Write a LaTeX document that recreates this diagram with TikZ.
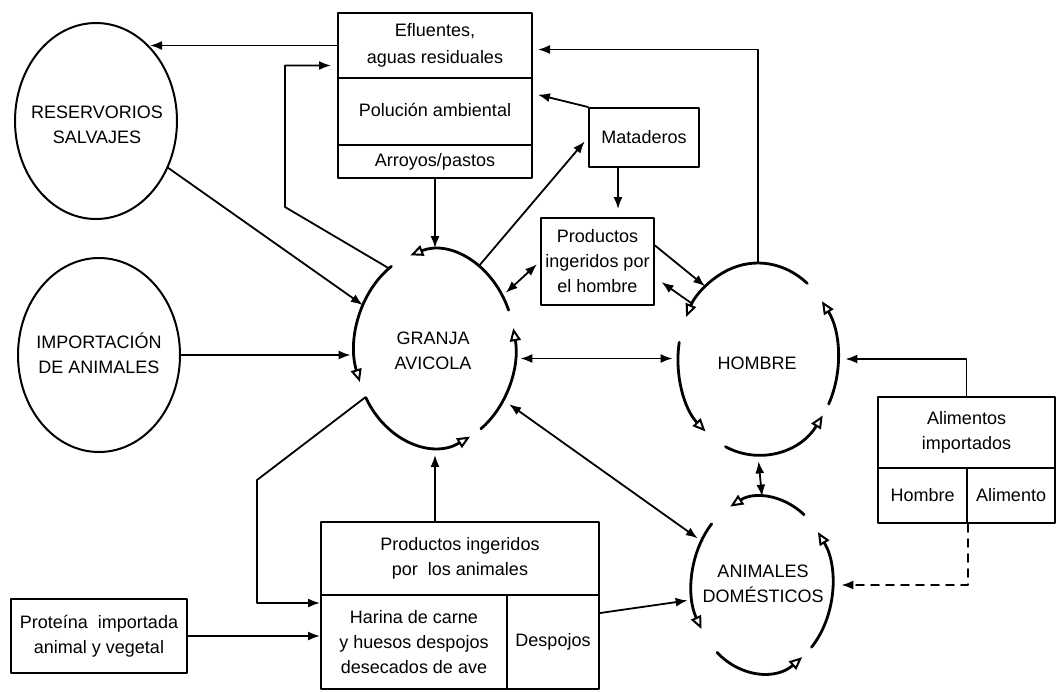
\documentclass[tikz,border=0pt]{standalone}
\usepackage{fontspec}
\setmainfont{Liberation Sans}
\usetikzlibrary{arrows.meta,shapes.geometric}

\begin{document}
\begin{tikzpicture}[x=0.5pt,y=0.5pt,font=\fontsize{9}{12.5}\selectfont,line cap=round,line join=round,
  cell/.style 2 args={draw,line width=1pt,inner sep=0pt,align=center,minimum width=#1,minimum height=#2},
  ring/.style 2 args={draw,line width=1pt,ellipse,inner sep=0pt,minimum width=#1,minimum height=#2},
  hole/.style 2 args={ellipse,inner sep=0pt,minimum width=#1,minimum height=#2},
  tag/.style={align=center,inner sep=0pt},
  flow/.style={line width=0.9pt,-{Latex[length=6pt,width=4.5pt]}},
  both/.style={line width=0.9pt,{Latex[length=6pt,width=4.5pt]}-{Latex[length=6pt,width=4.5pt]}},
  cyc/.style={line width=1.4pt,-{Triangle[open,length=6.5pt,width=5.5pt,line width=1pt]}}]
  \useasboundingbox (0,0) rectangle (1058,-692);

  % outer sources, drawn as plain ellipses
  \node[ring={81pt}{98pt}] (reservorios) at (96,-121) {};
  \node[tag] (reservoriosT) at (97,-125) {RESERVORIOS\\SALVAJES};
  \node[ring={81pt}{97pt}] (importacion) at (99,-355) {};
  \node[tag] (importacionT) at (99,-353) {IMPORTACIÓN\\DE ANIMALES};

  % the three populations, each a ring of four open-headed arcs
  \node[hole={80pt}{98pt}] (granja) at (435,-348.5) {};
  \node[tag] (granjaT) at (433,-350.5) {GRANJA\\AVICOLA};
  \foreach \a/\b in {23/108,123/200,210/296,305/372}
    \draw[cyc] ([shift={(\a:80 and 98)}]granja.center) arc[start angle=\a,end angle=\b,x radius=80,y radius=98];

  \node[hole={80pt}{96pt}] (hombre) at (758,-359) {};
  \node[tag] (hombreT) at (757,-363) {HOMBRE};
  \foreach \a/\b in {52/154,170/229,246/324,332/397}
    \draw[cyc] ([shift={(\a:80 and 96)}]hombre.center) arc[start angle=\a,end angle=\b,x radius=80,y radius=96];

  \node[hole={70pt}{88pt}] (animales) at (762,-585) {};
  \node[tag] (animalesT) at (763,-583.5) {ANIMALES\\DOMÉSTICOS};
  \foreach \a/\b in {53/117,136/210,230/305,315/397}
    \draw[cyc] ([shift={(\a:70 and 88)}]animales.center) arc[start angle=\a,end angle=\b,x radius=70,y radius=88];

  % boxes
  \node[cell={97pt}{32.5pt}] (efl) at (435,-45.5) {Efluentes,\\[1pt]aguas residuales};
  \node[cell={97pt}{33.5pt}] (pol) at (435,-111.5) {\raisebox{2pt}{Polución ambiental}};
  \node[cell={97pt}{16.5pt}] (arr) at (435,-161.5) {Arroyos/pastos};
  \node[cell={55pt}{29.5pt}] (mataderos) at (644,-137.5) {Mataderos};
  \node[cell={56.5pt}{43.5pt}] (prodh) at (597.5,-261.5) {Productos\\ingeridos por\\el hombre};
  \node[cell={88.5pt}{35.5pt}] (alim) at (966.5,-432.5) {Alimentos\\importados};
  \node[cell={44.5pt}{27.5pt}] (hom) at (922.5,-495.5) {Hombre};
  \node[cell={44pt}{27.5pt}] (alm) at (1011,-495.5) {Alimento};
  \node[cell={139pt}{36.5pt}] (pia) at (460,-558.5) {Productos ingeridos\\por~ los animales};
  \node[cell={93pt}{47pt}] (harina) at (414,-642) {Harina de carne\\y huesos despojos\\desecados de ave};
  \node[cell={46pt}{47pt}] (desp) at (553,-642) {Despojos};
  \node[cell={88pt}{37pt}] (prot) at (99,-636) {Proteína~ importada\\animal y vegetal};

  \coordinate (bendA) at (285,-207);
  \coordinate (bendB) at (257,-480);

  % connectors
  \draw[flow] (reservorios.-33) -- (granja.149);
  \draw[flow,shorten >=2pt] (importacion.east) -- (importacion.east -| granja.west);
  \draw[flow] (efl.west) -- (efl.west -| reservorios.54);
  \draw[flow,shorten >=3pt] (granja.120) -- (bendA) |- ([yshift=-10pt]efl.west);
  \draw[flow,shorten >=1pt] (arr.south) -- (granja.north);
  \draw[flow,shorten >=2.5pt] (granja.62) -- (mataderos.west);
  \draw[flow,shorten >=2.5pt] (mataderos.north west) -- ([yshift=9pt]pol.east);
  \draw[flow,shorten >=4pt] ([xshift=-13pt]mataderos.south) -- ([xshift=-13pt]mataderos.south |- prodh.north);
  \draw[both,shorten <=2pt,shorten >=2pt] (prodh.west) -- (granja.38);
  \draw[flow] ([yshift=8pt]prodh.east) -- (hombre.126);
  \draw[flow,shorten >=4pt] (hombre.140) -- ([yshift=-8pt]prodh.east);
  \draw[both,shorten <=2.5pt,shorten >=2.5pt] ([yshift=-5pt]granja.east) -- ([yshift=-5pt]granja.east -| hombre.west);
  \draw[flow,shorten >=2.5pt] (hombre.north) |- ([yshift=-2pt]efl.east);
  \draw[flow,shorten >=3.5pt] (alim.north) |- (hombre.east);
  \draw[flow,dash pattern=on 4pt off 3.5pt,shorten >=4.5pt] (hom.south east) |- (animales.east);
  \draw[both,shorten <=3pt] (hombre.south) -- (animales.north);
  \draw[both,shorten <=3.5pt,shorten >=2pt] (granja.-37) -- (animales.144);
  \draw[flow,shorten >=2.5pt] ([yshift=14.5pt]desp.east) -- (animales.192);
  \draw[flow] (prot.east) -- (prot.east -| harina.west);
  \draw[flow] (granja.215) -- (bendB) |- ([yshift=19.5pt]harina.west);
  \draw[flow,shorten >=4pt] (granja.south |- pia.north) -- (granja.south);
\end{tikzpicture}
\end{document}
